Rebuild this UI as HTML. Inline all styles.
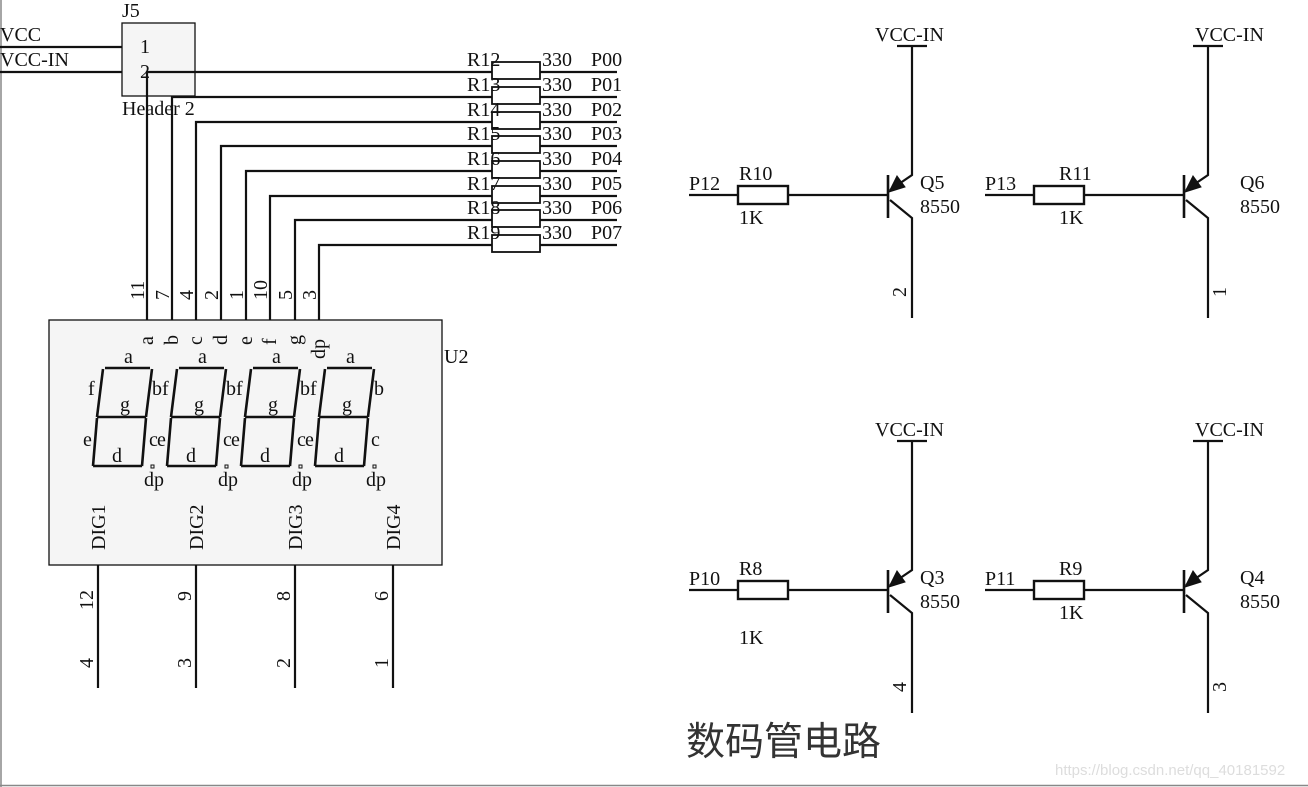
<!DOCTYPE html>
<html><head><meta charset="utf-8"><style>
html,body{margin:0;padding:0;background:#fff}
svg{display:block}
text{font-family:"Liberation Serif",serif;font-size:20px;fill:#111}
</style></head><body>
<svg width="1308" height="787" viewBox="0 0 1308 787" xmlns="http://www.w3.org/2000/svg">
<rect width="1308" height="787" fill="#fff"/>
<line x1="1" y1="0" x2="1" y2="787" stroke="#888" stroke-width="1.5"/>
<line x1="0" y1="785.5" x2="1308" y2="785.5" stroke="#888" stroke-width="1.5"/>
<g stroke="#111" stroke-width="2.2" fill="none">
<rect x="122" y="23" width="73" height="73" fill="#f5f5f5" stroke-width="1.3"/>
<line x1="0" y1="47" x2="122" y2="47"/>
<line x1="0" y1="72" x2="122" y2="72"/>
<polyline points="147,320 147,72 492,72"/>
<polyline points="172,320 172,97 492,97"/>
<polyline points="196,320 196,122 492,122"/>
<polyline points="221,320 221,146 492,146"/>
<polyline points="246,320 246,171 492,171"/>
<polyline points="270,320 270,196 492,196"/>
<polyline points="295,320 295,220 492,220"/>
<polyline points="319,320 319,245 492,245"/>
<line x1="540" y1="72" x2="617" y2="72"/><line x1="540" y1="97" x2="617" y2="97"/>
<line x1="540" y1="122" x2="617" y2="122"/><line x1="540" y1="146" x2="617" y2="146"/>
<line x1="540" y1="171" x2="617" y2="171"/><line x1="540" y1="196" x2="617" y2="196"/>
<line x1="540" y1="220" x2="617" y2="220"/><line x1="540" y1="245" x2="617" y2="245"/>
<g stroke-width="1.8" fill="#fff">
<rect x="492" y="62" width="48" height="17"/><rect x="492" y="87" width="48" height="17"/>
<rect x="492" y="112" width="48" height="17"/><rect x="492" y="136" width="48" height="17"/>
<rect x="492" y="161" width="48" height="17"/><rect x="492" y="186" width="48" height="17"/>
<rect x="492" y="210" width="48" height="17"/><rect x="492" y="235" width="48" height="17"/>
</g>
<rect x="49" y="320" width="393" height="245" fill="#f5f5f5" stroke-width="1.3"/>
<line x1="98" y1="565" x2="98" y2="688"/><line x1="196" y1="565" x2="196" y2="688"/>
<line x1="295" y1="565" x2="295" y2="688"/><line x1="393" y1="565" x2="393" y2="688"/>
<g id="d1">
<path d="M105,368 L150,368 M103,369 L97,417 M152,369 L146,417 M97,417 L146,417 M97,418 L93,466 M146,418 L142,466 M93,466 L142,466" stroke-width="2.6"/>
<rect x="151" y="465" width="3" height="3" stroke-width="1"/>
</g>
<use href="#d1" x="74"/><use href="#d1" x="148"/><use href="#d1" x="222"/>
<g id="tr">
<line x1="689" y1="195" x2="738" y2="195"/>
<rect x="738" y="186" width="50" height="18" stroke-width="2.4"/>
<line x1="788" y1="195" x2="888" y2="195"/>
<line x1="888" y1="175" x2="888" y2="218" stroke-width="2.6"/>
<polyline points="890,190 912,175 912,46"/>
<line x1="897" y1="46" x2="927" y2="46"/>
<polyline points="890,200 912,218 912,318"/>
<polygon points="889,192 897,176 905,187" fill="#111" stroke-width="1"/>
</g>
<use href="#tr" x="296" y="0"/>
<use href="#tr" x="0" y="395"/>
<use href="#tr" x="296" y="395"/>
</g>
<text x="0" y="41">VCC</text><text x="0" y="66">VCC-IN</text>
<text x="122" y="17">J5</text><text x="140" y="53">1</text><text x="140" y="78">2</text>
<text x="122" y="115">Header 2</text>
<g>
<text x="467" y="66">R12</text><text x="542" y="66">330</text><text x="591" y="66">P00</text>
<text x="467" y="91">R13</text><text x="542" y="91">330</text><text x="591" y="91">P01</text>
<text x="467" y="116">R14</text><text x="542" y="116">330</text><text x="591" y="116">P02</text>
<text x="467" y="140">R15</text><text x="542" y="140">330</text><text x="591" y="140">P03</text>
<text x="467" y="165">R16</text><text x="542" y="165">330</text><text x="591" y="165">P04</text>
<text x="467" y="190">R17</text><text x="542" y="190">330</text><text x="591" y="190">P05</text>
<text x="467" y="214">R18</text><text x="542" y="214">330</text><text x="591" y="214">P06</text>
<text x="467" y="239">R19</text><text x="542" y="239">330</text><text x="591" y="239">P07</text>
</g>
<g>
<text transform="translate(144,300) rotate(-90)">11</text>
<text transform="translate(169,300) rotate(-90)">7</text>
<text transform="translate(193,300) rotate(-90)">4</text>
<text transform="translate(218,300) rotate(-90)">2</text>
<text transform="translate(243,300) rotate(-90)">1</text>
<text transform="translate(267,300) rotate(-90)">10</text>
<text transform="translate(292,300) rotate(-90)">5</text>
<text transform="translate(316,300) rotate(-90)">3</text>
<text transform="translate(153,345) rotate(-90)">a</text>
<text transform="translate(178,345) rotate(-90)">b</text>
<text transform="translate(202,345) rotate(-90)">c</text>
<text transform="translate(227,345) rotate(-90)">d</text>
<text transform="translate(252,345) rotate(-90)">e</text>
<text transform="translate(276,345) rotate(-90)">f</text>
<text transform="translate(301,345) rotate(-90)">g</text>
<text transform="translate(325,359) rotate(-90)">dp</text>
</g>
<text x="444" y="363">U2</text>
<g>
<text x="124" y="363">a</text><text x="88" y="395">f</text><text x="120" y="411">g</text><text x="152" y="395">b</text><text x="83" y="446">e</text><text x="112" y="462">d</text><text x="149" y="446">c</text><text x="144" y="486">dp</text>
<text x="198" y="363">a</text><text x="162" y="395">f</text><text x="194" y="411">g</text><text x="226" y="395">b</text><text x="157" y="446">e</text><text x="186" y="462">d</text><text x="223" y="446">c</text><text x="218" y="486">dp</text>
<text x="272" y="363">a</text><text x="236" y="395">f</text><text x="268" y="411">g</text><text x="300" y="395">b</text><text x="231" y="446">e</text><text x="260" y="462">d</text><text x="297" y="446">c</text><text x="292" y="486">dp</text>
<text x="346" y="363">a</text><text x="310" y="395">f</text><text x="342" y="411">g</text><text x="374" y="395">b</text><text x="305" y="446">e</text><text x="334" y="462">d</text><text x="371" y="446">c</text><text x="366" y="486">dp</text>
</g>
<text transform="translate(105,550) rotate(-90)">DIG1</text>
<text transform="translate(203,550) rotate(-90)">DIG2</text>
<text transform="translate(302,550) rotate(-90)">DIG3</text>
<text transform="translate(400,550) rotate(-90)">DIG4</text>
<text transform="translate(93,610) rotate(-90)">12</text>
<text transform="translate(191,601) rotate(-90)">9</text>
<text transform="translate(290,601) rotate(-90)">8</text>
<text transform="translate(388,601) rotate(-90)">6</text>
<text transform="translate(93,668) rotate(-90)">4</text>
<text transform="translate(191,668) rotate(-90)">3</text>
<text transform="translate(290,668) rotate(-90)">2</text>
<text transform="translate(388,668) rotate(-90)">1</text>
<text x="875" y="41">VCC-IN</text><text x="1195" y="41">VCC-IN</text>
<text x="875" y="436">VCC-IN</text><text x="1195" y="436">VCC-IN</text>
<text x="689" y="190">P12</text><text x="739" y="180">R10</text><text x="739" y="224">1K</text><text x="920" y="189">Q5</text><text x="920" y="213">8550</text>
<text x="985" y="190">P13</text><text x="1059" y="180">R11</text><text x="1059" y="224">1K</text><text x="1240" y="189">Q6</text><text x="1240" y="213">8550</text>
<text x="689" y="585">P10</text><text x="739" y="575">R8</text><text x="739" y="644">1K</text><text x="920" y="584">Q3</text><text x="920" y="608">8550</text>
<text x="985" y="585">P11</text><text x="1059" y="575">R9</text><text x="1059" y="619">1K</text><text x="1240" y="584">Q4</text><text x="1240" y="608">8550</text>
<text transform="translate(906,297) rotate(-90)">2</text>
<text transform="translate(1226,297) rotate(-90)">1</text>
<text transform="translate(906,692) rotate(-90)">4</text>
<text transform="translate(1226,692) rotate(-90)">3</text>
<text x="686" y="755" style="font-family:'Liberation Sans','Noto Sans CJK SC',sans-serif;font-size:39px;fill:#333">数码管电路</text>
<text x="1055" y="775" style="font-family:'Liberation Sans',sans-serif;font-size:15px;fill:#ddd">https://blog.csdn.net/qq_40181592</text>
</svg>
</body></html>
